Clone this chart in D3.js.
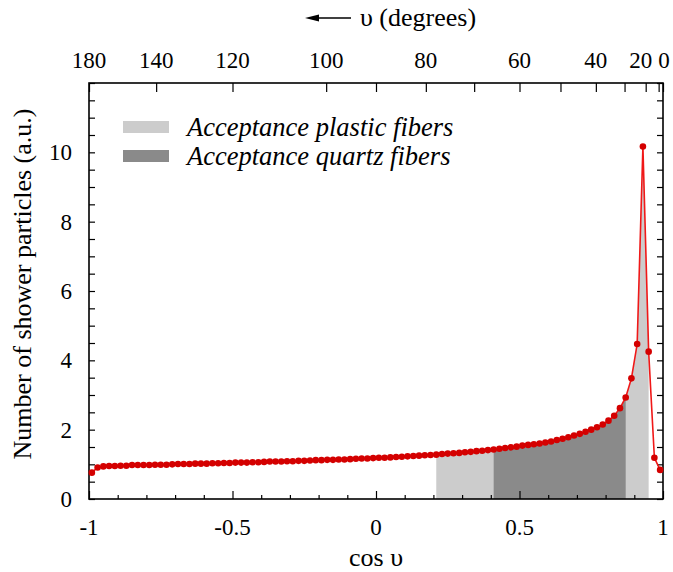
<!DOCTYPE html>
<html><head><meta charset="utf-8">
<script src="https://cdn.jsdelivr.net/npm/d3@7"></script>
<style>body{margin:0;background:#fff}svg{display:block}
.serif{font-family:"Liberation Serif","Times New Roman",Tinos,"DejaVu Serif","Noto Serif",serif}</style>
</head><body>
<svg id="c" width="673" height="572"></svg>
<script>
const cosCenters = [-0.99,-0.97,-0.95,-0.93,-0.91,-0.89,-0.87,-0.85,-0.83,-0.81,-0.79,-0.77,-0.75,-0.73,-0.71,-0.69,-0.67,-0.65,-0.63,-0.61,-0.59,-0.57,-0.55,-0.53,-0.51,-0.49,-0.47,-0.45,-0.43,-0.41,-0.39,-0.37,-0.35,-0.33,-0.31,-0.29,-0.27,-0.25,-0.23,-0.21,-0.19,-0.17,-0.15,-0.13,-0.11,-0.09,-0.07,-0.05,-0.03,-0.01,0.01,0.03,0.05,0.07,0.09,0.11,0.13,0.15,0.17,0.19,0.21,0.23,0.25,0.27,0.29,0.31,0.33,0.35,0.37,0.39,0.41,0.43,0.45,0.47,0.49,0.51,0.53,0.55,0.57,0.59,0.61,0.63,0.65,0.67,0.69,0.71,0.73,0.75,0.77,0.79,0.81,0.83,0.85,0.87,0.89,0.91,0.93,0.95,0.97,0.99];
const particles = [0.76,0.91,0.94,0.95,0.95,0.96,0.96,0.98,0.98,0.98,0.98,0.99,0.99,0.99,1.00,1.01,1.01,1.01,1.02,1.02,1.02,1.03,1.03,1.04,1.04,1.05,1.05,1.05,1.06,1.06,1.07,1.08,1.08,1.08,1.09,1.09,1.10,1.10,1.11,1.12,1.12,1.13,1.13,1.14,1.14,1.15,1.16,1.17,1.17,1.18,1.19,1.19,1.20,1.21,1.22,1.23,1.24,1.25,1.26,1.27,1.28,1.30,1.31,1.32,1.33,1.35,1.36,1.38,1.39,1.41,1.43,1.45,1.47,1.49,1.51,1.54,1.56,1.58,1.60,1.63,1.66,1.70,1.74,1.78,1.83,1.88,1.94,2.00,2.07,2.15,2.26,2.40,2.62,2.93,3.48,4.47,10.17,4.25,1.19,0.84];
const plasticRange = [0.21, 0.95];
const quartzRange = [0.41, 0.87];
const legendLabels = ["Acceptance plastic fibers", "Acceptance quartz fibers"];
const xTickLabels = [-1, -0.5, 0, 0.5, 1];
const yTickLabels = [0, 2, 4, 6, 8, 10];
const degTickLabels = [180, 140, 120, 100, 80, 60, 40, 20, 0];
const degTickMarks = [180, 140, 120, 100, 90, 80, 70, 60, 50, 40, 30, 20, 10, 0];

const data = cosCenters.map((c, i) => ({x: c, y: particles[i]}));
const L = 89, R = 663, T = 83, B = 499;
const x = d3.scaleLinear().domain([-1, 1]).range([L, R]);
const y = d3.scaleLinear().domain([0, 12]).range([B, T]);
const svg = d3.select("#c");
const degToX = a => x(Math.cos(a * Math.PI / 180));

// shaded acceptance areas
const area = d3.area().x(d => x(d.x)).y0(y(0)).y1(d => y(d.y));
svg.append("path").datum(data.filter(d => d.x >= plasticRange[0] - 1e-9 && d.x <= plasticRange[1] + 1e-9))
  .attr("d", area).attr("fill", "#cccccc");
svg.append("path").datum(data.filter(d => d.x >= quartzRange[0] - 1e-9 && d.x <= quartzRange[1] + 1e-9))
  .attr("d", area).attr("fill", "#8a8a8a");

// axes ticks (inward)
const gB = svg.append("g").attr("transform", `translate(0,${B})`)
  .call(d3.axisTop(x).tickValues(d3.range(-10, 11).map(v => v / 10)).tickSize(4).tickFormat(""));
gB.selectAll(".tick line").filter(d => Math.abs(d * 2 - Math.round(d * 2)) < 1e-9).attr("y2", -8);
const gL = svg.append("g").attr("transform", `translate(${L},0)`)
  .call(d3.axisRight(y).tickValues(d3.range(0, 25).map(v => v / 2)).tickSize(6).tickFormat(""));
const gR = svg.append("g").attr("transform", `translate(${R},0)`)
  .call(d3.axisLeft(y).tickValues(d3.range(0, 25).map(v => v / 2)).tickSize(6).tickFormat(""));
const gT = svg.append("g").attr("transform", `translate(0,${T})`)
  .call(d3.axisBottom(x).tickValues(degTickMarks.map(a => Math.cos(a * Math.PI / 180))).tickSize(9).tickFormat(""));
[gB, gL, gR, gT].forEach(g => { g.select(".domain").remove(); g.selectAll(".tick line").attr("stroke", "#000").attr("stroke-width", 1.2); });

// frame
svg.append("rect").attr("x", L).attr("y", T).attr("width", R - L).attr("height", B - T)
  .attr("fill", "none").attr("stroke", "#000").attr("stroke-width", 1.6);

// line and points
svg.append("path").datum(data).attr("d", d3.line().x(d => x(d.x)).y(d => y(d.y)))
  .attr("fill", "none").attr("stroke", "#f01818").attr("stroke-width", 1.6);
svg.append("g").selectAll("circle").data(data).join("circle")
  .attr("cx", d => x(d.x)).attr("cy", d => y(d.y)).attr("r", 3.3).attr("fill", "#d40000");

// tick labels
svg.append("g").selectAll("text").data(xTickLabels).join("text").attr("class", "serif")
  .attr("x", d => x(d)).attr("y", 535).attr("text-anchor", "middle")
  .attr("font-size", 23).text(d => d);
svg.append("g").selectAll("text").data(yTickLabels).join("text").attr("class", "serif")
  .attr("x", 72).attr("y", d => y(d) + 8).attr("text-anchor", "end")
  .attr("font-size", 23).text(d => d);
svg.append("g").selectAll("text").data(degTickLabels).join("text").attr("class", "serif")
  .attr("x", d => d === 20 ? degToX(d) - 5 : (d === 0 ? degToX(d) + 1 : degToX(d))).attr("y", 68).attr("text-anchor", "middle")
  .attr("font-size", 23).text(d => d);

// titles
svg.append("text").attr("class", "serif").attr("x", 376).attr("y", 566).attr("text-anchor", "middle")
  .attr("font-size", 26).text("cos υ");
svg.append("text").attr("class", "serif").attr("transform", "translate(31,284) rotate(-90)").attr("text-anchor", "middle")
  .attr("font-size", 26).text("Number of shower particles (a.u.)");
svg.append("text").attr("class", "serif").attr("x", 360).attr("y", 26).attr("text-anchor", "start")
  .attr("font-size", 26).text("υ (degrees)");
svg.append("line").attr("x1", 314).attr("x2", 351).attr("y1", 18).attr("y2", 18).attr("stroke", "#000").attr("stroke-width", 1.5);
svg.append("path").attr("d", "M305,18 L319,14.5 L319,21.5 Z").attr("fill", "#000");

// legend
const legColors = ["#cccccc", "#8a8a8a"];
const leg = svg.append("g");
legendLabels.forEach((t, i) => {
  leg.append("rect").attr("x", 123).attr("y", 121 + i * 29).attr("width", 46).attr("height", 12).attr("fill", legColors[i]);
  leg.append("text").attr("class", "serif").attr("x", 187).attr("y", 136 + i * 29).attr("font-style", "italic")
    .attr("font-size", 26.5).text(t);
});
</script>
</body></html>
